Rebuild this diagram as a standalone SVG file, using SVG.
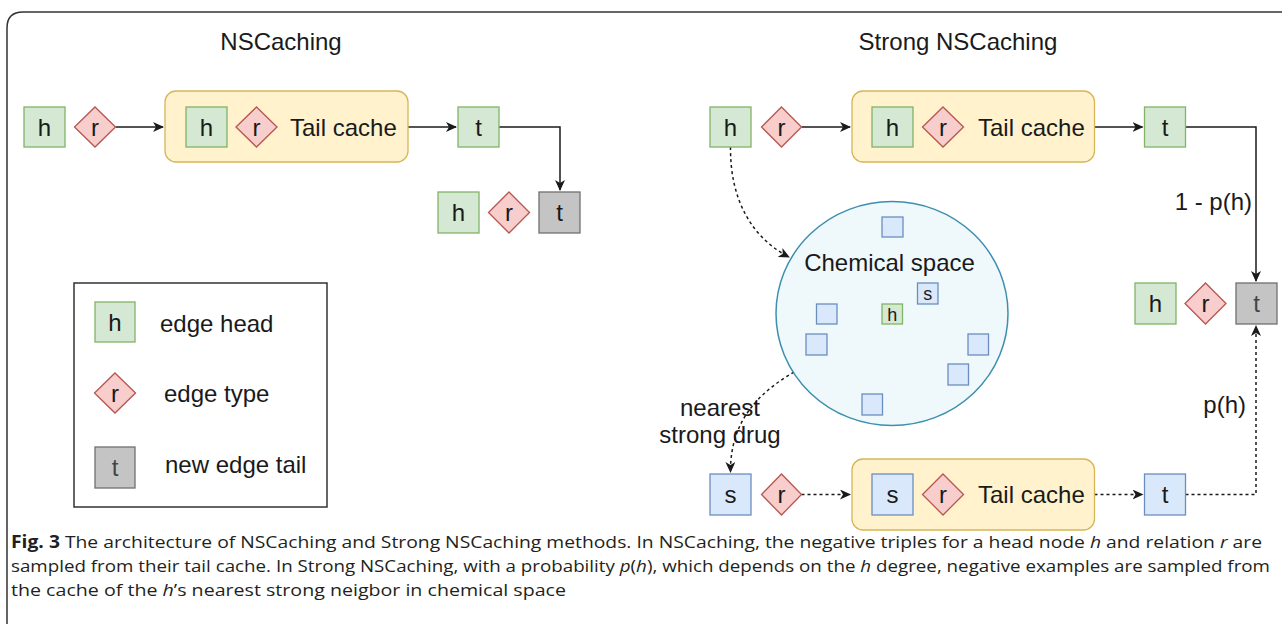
<svg xmlns="http://www.w3.org/2000/svg" width="1282" height="624" viewBox="0 0 1282 624">
<style>
text{font-family:"Liberation Sans",Arial,sans-serif;fill:#1a1a1a}
.lbl{font-size:24px}
.c{text-anchor:middle}
.e{text-anchor:end}
.hb{fill:#d5e8d4;stroke:#82b366;stroke-width:1.3}
.rd{fill:#f8cecc;stroke:#b85450;stroke-width:1.3}
.tb{fill:#c4c4c4;stroke:#707070;stroke-width:1.3}
.sb{fill:#dae8fc;stroke:#6c8ebf;stroke-width:1.3}
.yc{fill:#fff2cc;stroke:#d6b656;stroke-width:1.3}
.ln{fill:none;stroke:#1a1a1a;stroke-width:1.5}
.dl{fill:none;stroke:#1a1a1a;stroke-width:1.5;stroke-dasharray:3 3}
.cap{font-family:"Open Sans","Liberation Sans",sans-serif;font-size:17px;fill:#231f20}
.sm{font-size:18px}
</style>
<defs>
<marker id="ar" markerUnits="userSpaceOnUse" markerWidth="12" markerHeight="10" refX="10" refY="5" orient="auto" viewBox="0 0 12 10">
<path d="M0,0 L11,5 L0,10 L3,5 z" fill="#1a1a1a"/>
</marker>
</defs>
<path d="M7,624 L7,28 Q7,12 23,12 L1282,12" fill="none" stroke="#333" stroke-width="1.5"/>

<text class="lbl c" x="281" y="50" font-size="22">NSCaching</text>
<text class="lbl c" x="958" y="50">Strong NSCaching</text>

<g id="connectors">
<path class="ln" d="M115.5,127 H163" marker-end="url(#ar)"/>
<path class="ln" d="M408,127 H456" marker-end="url(#ar)"/>
<path class="ln" d="M498.5,127 H560 V190" marker-end="url(#ar)"/>
<path class="ln" d="M801.5,127 H850" marker-end="url(#ar)"/>
<path class="ln" d="M1094.5,127 H1142.5" marker-end="url(#ar)"/>
<path class="ln" d="M1185.5,127 H1256 V281" marker-end="url(#ar)"/>
<path class="dl" d="M730.5,147 C730,200 752,238 789,257" marker-end="url(#ar)"/>
<path class="dl" d="M794,372 C760,392 730,420 730.5,472" marker-end="url(#ar)"/>
<path class="dl" d="M801.5,494.5 H850" marker-end="url(#ar)"/>
<path class="dl" d="M1094.5,494.5 H1142.5" marker-end="url(#ar)"/>
<path class="dl" d="M1185.5,494.5 H1256 V326" marker-end="url(#ar)"/>
<text class="lbl e" x="1252" y="210">1 - p(h)</text>
<text class="lbl e" x="1246" y="413">p(h)</text>
<text class="lbl c" x="720" y="416">nearest</text>
<text class="lbl c" x="720" y="443">strong drug</text>
</g>

<g id="nsc-h"><rect class="hb" x="24" y="107" width="41" height="40"/><text class="lbl c" x="44.5" y="135.5">h</text></g>
<g id="nsc-r"><path class="rd" d="M95,107 L115.5,127 L95,147 L74.5,127 z"/><text class="lbl c" x="95" y="135.5">r</text></g>
<g id="nsc-cache"><rect class="yc" x="165" y="91" width="243" height="71" rx="11"/>
<rect class="hb" x="186" y="107" width="41" height="40"/><text class="lbl c" x="206.5" y="135.5">h</text>
<path class="rd" d="M256.5,107 L277,127 L256.5,147 L236,127 z"/><text class="lbl c" x="256.5" y="135.5">r</text>
<text class="lbl" x="290" y="135.5">Tail cache</text></g>
<g id="nsc-t"><rect class="hb" x="458" y="107" width="41" height="40"/><text class="lbl c" x="478.5" y="135.5">t</text></g>
<g id="nsc-out"><rect class="hb" x="438" y="192" width="41" height="41"/><text class="lbl c" x="458.5" y="221">h</text>
<path class="rd" d="M509,192 L529.5,212.5 L509,233 L488.5,212.5 z"/><text class="lbl c" x="509" y="221">r</text>
<rect class="tb" x="539" y="192" width="41" height="41"/><text class="lbl c" x="559.5" y="221" fill="#333">t</text></g>

<g id="legend"><rect x="74" y="283" width="253" height="224" fill="#fff" stroke="#333" stroke-width="1.5"/>
<rect class="hb" x="95" y="302" width="40" height="40"/><text class="lbl c" x="115" y="330.5">h</text>
<text class="lbl" x="160" y="332">edge head</text>
<path class="rd" d="M115,373 L135.5,393 L115,413 L94.5,393 z"/><text class="lbl c" x="115" y="401.5">r</text>
<text class="lbl" x="164" y="402">edge type</text>
<rect class="tb" x="95" y="447" width="40" height="41"/><text class="lbl c" x="115" y="476" style="fill:#444">t</text>
<text class="lbl" x="165" y="473">new edge tail</text></g>

<g id="snc-h"><rect class="hb" x="710" y="107" width="41" height="40"/><text class="lbl c" x="730.5" y="135.5">h</text></g>
<g id="snc-r"><path class="rd" d="M781.5,107 L801.5,127 L781.5,147 L761.5,127 z"/><text class="lbl c" x="781.5" y="135.5">r</text></g>
<g id="snc-cache"><rect class="yc" x="852" y="91" width="242.5" height="71" rx="11"/>
<rect class="hb" x="872" y="107" width="41" height="40"/><text class="lbl c" x="892.5" y="135.5">h</text>
<path class="rd" d="M943,107 L963.5,127 L943,147 L922.5,127 z"/><text class="lbl c" x="943" y="135.5">r</text>
<text class="lbl" x="978" y="135.5">Tail cache</text></g>
<g id="snc-t"><rect class="hb" x="1144.5" y="107" width="41" height="40"/><text class="lbl c" x="1165" y="135.5">t</text></g>

<g id="chem"><ellipse cx="892" cy="313.5" rx="116" ry="112" fill="#eff8fb" stroke="#3d8fb0" stroke-width="1.5"/>
<text class="lbl c" x="889.5" y="271">Chemical space</text>
<rect class="sb" x="882" y="217" width="21" height="20"/>
<rect class="sb" x="917.5" y="283" width="20.5" height="21"/><text class="sm c" x="927.7" y="300">s</text>
<rect class="hb" x="882" y="304" width="20.5" height="20"/><text class="sm c" x="892.2" y="320.5">h</text>
<rect class="sb" x="816.5" y="304" width="20.5" height="20"/>
<rect class="sb" x="806" y="334" width="21" height="21"/>
<rect class="sb" x="968" y="334" width="20.5" height="21"/>
<rect class="sb" x="948" y="364" width="20.5" height="21"/>
<rect class="sb" x="862" y="394" width="20.5" height="21"/></g>

<g id="snc-out"><rect class="hb" x="1135" y="283" width="41" height="41"/><text class="lbl c" x="1155.5" y="312">h</text>
<path class="rd" d="M1205.5,283 L1226,303.5 L1205.5,324 L1185,303.5 z"/><text class="lbl c" x="1205.5" y="312">r</text>
<rect class="tb" x="1236" y="283" width="41" height="41"/><text class="lbl c" x="1256.5" y="312" style="fill:#444">t</text></g>

<g id="strong-s"><rect class="sb" x="710" y="474" width="41" height="41"/><text class="lbl c" x="730.5" y="503">s</text></g>
<g id="strong-r"><path class="rd" d="M781.5,474 L801.5,494.5 L781.5,515 L761.5,494.5 z"/><text class="lbl c" x="781.5" y="503">r</text></g>
<g id="strong-cache"><rect class="yc" x="852" y="459" width="242.5" height="71" rx="11"/>
<rect class="sb" x="872" y="474" width="41" height="41"/><text class="lbl c" x="892.5" y="503">s</text>
<path class="rd" d="M943,474 L963.5,494.5 L943,515 L922.5,494.5 z"/><text class="lbl c" x="943" y="503">r</text>
<text class="lbl" x="978" y="503">Tail cache</text></g>
<g id="strong-t"><rect class="sb" x="1144.5" y="474" width="41" height="41"/><text class="lbl c" x="1165" y="503">t</text></g>

<g id="caption">
<text class="cap" x="11" y="548" textLength="1251" lengthAdjust="spacingAndGlyphs"><tspan font-weight="bold">Fig. 3</tspan>  The architecture of NSCaching and Strong NSCaching methods. In NSCaching, the negative triples for a head node <tspan font-style="italic">h</tspan> and relation <tspan font-style="italic">r</tspan> are</text>
<text class="cap" x="11" y="572" textLength="1259" lengthAdjust="spacingAndGlyphs">sampled from their tail cache. In Strong NSCaching, with a probability <tspan font-style="italic">p</tspan>(<tspan font-style="italic">h</tspan>), which depends on the <tspan font-style="italic">h</tspan> degree, negative examples are sampled from</text>
<text class="cap" x="11" y="596" textLength="555" lengthAdjust="spacingAndGlyphs">the cache of the <tspan font-style="italic">h</tspan>’s nearest strong neigbor in chemical space</text>
</g>
</svg>
